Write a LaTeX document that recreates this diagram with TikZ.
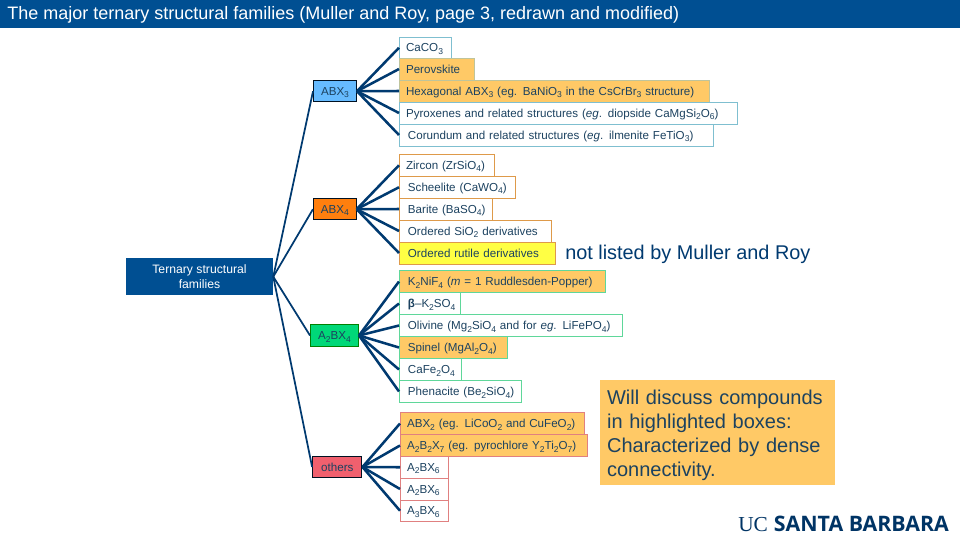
\documentclass[tikz,border=0pt]{standalone}
\usepackage{fontspec}
\setmainfont{Liberation Sans}
\newfontfamily\serifface{Liberation Serif}
\newfontfamily\logoface{Open Sans}
\definecolor{titleblue}{HTML}{004F92}
\definecolor{navy}{HTML}{003A70}
\definecolor{inktext}{HTML}{1C4260}
\definecolor{hl}{HTML}{FFC966}
\definecolor{tealedge}{HTML}{7FBFD0}
\definecolor{orangeedge}{HTML}{DE9A4A}
\definecolor{greenedge}{HTML}{5FD79A}
\definecolor{bluefam}{HTML}{66BBFF}
\definecolor{orangefam}{HTML}{FF7F0E}
\definecolor{greenfam}{HTML}{00D878}
\definecolor{redfam}{HTML}{F0606E}
\definecolor{rededge}{HTML}{E08080}
\definecolor{yellowfam}{HTML}{FFFF44}
\newcommand{\sbs}[1]{\raisebox{-0.4ex}{\fontsize{6.4}{7}\selectfont #1}}
\newcommand{\bx}[7]{%
  \pgfmathsetmacro{\bw}{#4-#2}\pgfmathsetmacro{\bh}{#5-#3}%
  \node[itembox,#6,minimum width=\bw*0.75pt,minimum height=\bh*0.75pt,text width=\bw*0.75pt-9.8pt] (#1) at ({(#2+#4)/2},{(#3+#5)/2}) {\mbox{#7}};}
\tikzset{
  x=0.75pt,y=-0.75pt,
  itembox/.style={draw,line width=0.75pt,inner xsep=4.9pt,inner ysep=0pt,align=left,text=inktext,
    font=\fontsize{8.7}{10}\selectfont,text height=6.6pt,text depth=0.3pt},
  famA/.style={draw=tealedge,fill=white},
  famAh/.style={draw=tealedge!50!hl,fill=hl},
  famB/.style={draw=orangeedge,fill=white},
  famBy/.style={draw=orangeedge,fill=yellowfam},
  famC/.style={draw=greenedge,fill=white},
  famCh/.style={draw=greenedge,fill=hl},
  famD/.style={draw=rededge,fill=white},
  famDh/.style={draw=rededge,fill=hl},
  parentbox/.style={draw=black!70!navy,line width=0.75pt,minimum height=16pt,inner sep=0pt,text=inktext,
    font=\fontsize{8.7}{10}\selectfont,text height=6.6pt,text depth=0.3pt},
  tree/.style={draw=navy,line width=1.9pt},
  trunk/.style={draw=navy,line width=1.3pt},
}
\begin{document}
\begin{tikzpicture}
\useasboundingbox (0,0) rectangle (960,540);
\fill[white] (0,0) rectangle (960,540);
\node[fill=titleblue,minimum width=720pt,minimum height=21pt,inner sep=0pt,anchor=north west] (titlebar) at (0,0) {};
\node[anchor=west,text=white,font=\fontsize{13.5}{15}\selectfont,inner sep=0pt] (titletext) at (7,14.5) {The major ternary structural families (Muller and Roy, page 3, redrawn and modified)};
\node[fill=titleblue,text=white,font=\fontsize{9.15}{10.8}\selectfont,align=center,minimum width=110.25pt,minimum height=28pt,inner sep=0pt] (root) at (199.5,276.7) {Ternary structural\\families};
\node[parentbox,fill=bluefam,minimum width=32.2pt] (abx3) at (335,91.2) {ABX\sbs{3}};
\node[parentbox,fill=orangefam,minimum width=32pt] (abx4) at (334.8,209.2) {ABX\sbs{4}};
\node[parentbox,draw=black!50!green,fill=greenfam,minimum width=36pt] (a2bx4) at (334.5,335.5) {A\sbs{2}BX\sbs{4}};
\node[parentbox,fill=redfam,minimum width=37pt] (others) at (337.3,467) {others};

\bx{a1}{399.5}{37.5}{451.5}{58}{famA}{CaCO\sbs{3}}
\bx{a2}{399.5}{58}{474.5}{80}{famAh}{Perovskite}
\bx{a3}{399.5}{80}{709.5}{102}{famAh}{Hexagonal ABX\sbs{3} (eg. BaNiO\sbs{3} in the CsCrBr\sbs{3} structure)}
\bx{a4}{399.5}{102}{737.5}{124}{famA}{Pyroxenes and related structures (\textit{eg}. diopside CaMgSi\sbs{2}O\sbs{6})}
\bx{a5}{399.5}{124}{713}{146}{famA}{\,Corundum and related structures (\textit{eg}. ilmenite FeTiO\sbs{3})}

\bx{b1}{399.5}{154.5}{494.5}{176}{famB}{Zircon (ZrSiO\sbs{4})}
\bx{b2}{399.5}{176.5}{515.5}{198}{famB}{\,Scheelite (CaWO\sbs{4})}
\bx{b3}{399.5}{198}{492}{220}{famB}{\,Barite (BaSO\sbs{4})}
\bx{b4}{399.5}{220}{551.5}{242}{famB}{\,Ordered SiO\sbs{2} derivatives}
\bx{b5}{399.5}{242}{555.5}{264}{famBy}{\,Ordered rutile derivatives}

\bx{c1}{399.5}{270.5}{605.5}{292.5}{famCh}{\,K\sbs{2}NiF\sbs{4} (\textit{m} = 1 Ruddlesden-Popper)}
\bx{c2}{399.5}{292.5}{460.5}{314.5}{famC}{\,\textbf{β}–K\sbs{2}SO\sbs{4}}
\bx{c3}{399.5}{314.5}{622.5}{336.5}{famC}{\,Olivine (Mg\sbs{2}SiO\sbs{4} and for \textit{eg}. LiFePO\sbs{4})}
\bx{c4}{399.5}{336.5}{507.5}{358.5}{famCh}{\,Spinel (MgAl\sbs{2}O\sbs{4})}
\bx{c5}{399.5}{358.5}{461}{380.5}{famC}{\,CaFe\sbs{2}O\sbs{4}}
\bx{c6}{399.5}{380.5}{521}{402.5}{famC}{\,Phenacite (Be\sbs{2}SiO\sbs{4})}

\bx{d1}{400.5}{412.5}{584.5}{434.5}{famDh}{ABX\sbs{2} (eg. LiCoO\sbs{2} and CuFeO\sbs{2})}
\bx{d2}{400.5}{434.5}{587.5}{456.5}{famDh}{A\sbs{2}B\sbs{2}X\sbs{7} (eg. pyrochlore Y\sbs{2}Ti\sbs{2}O\sbs{7})}
\bx{d3}{400.5}{456.5}{448}{478}{famD}{A\sbs{2}BX\sbs{6}}
\bx{d4}{400.5}{478}{448}{500}{famD}{A\sbs{2}BX\sbs{6}}
\bx{d5}{400.5}{500}{448}{521.5}{famD}{A\sbs{3}BX\sbs{6}}

\foreach \k in {abx3,abx4,a2bx4,others} \draw[trunk] (root.east) -- (\k.west);
\foreach \k in {a1,a2,a3,a4,a5} \draw[tree] (abx3.east) -- (\k.west);
\foreach \k in {b1,b2,b3,b4,b5} \draw[tree] (abx4.east) -- (\k.west);
\foreach \k in {c1,c2,c3,c4,c5,c6} \draw[tree] (a2bx4.east) -- (\k.west);
\foreach \k in {d1,d2,d3,d4,d5} \draw[tree] (others.east) -- (\k.west);

\node[anchor=west,text=navy,font=\fontsize{14.9}{17}\selectfont,inner sep=0pt] (notlisted) at (565,254.5) {not listed by Muller and Roy};
\node[fill=hl,text=inktext,font=\fontsize{15}{18}\selectfont,align=left,anchor=north west,minimum width=176.25pt,minimum height=78.75pt,inner xsep=5pt,inner ysep=0pt,text width=166pt] (note) at (600,380) {\rule{0pt}{15pt}Will discuss compounds\\in highlighted boxes:\\Characterized by dense\\connectivity.};
\node[anchor=west,inner sep=0pt,text=navy!90!black,font=\fontsize{16}{18}\selectfont] (logo) at (738,524) {{\serifface UC} {\logoface\bfseries SANTA BARBARA}};
\end{tikzpicture}
\end{document}
